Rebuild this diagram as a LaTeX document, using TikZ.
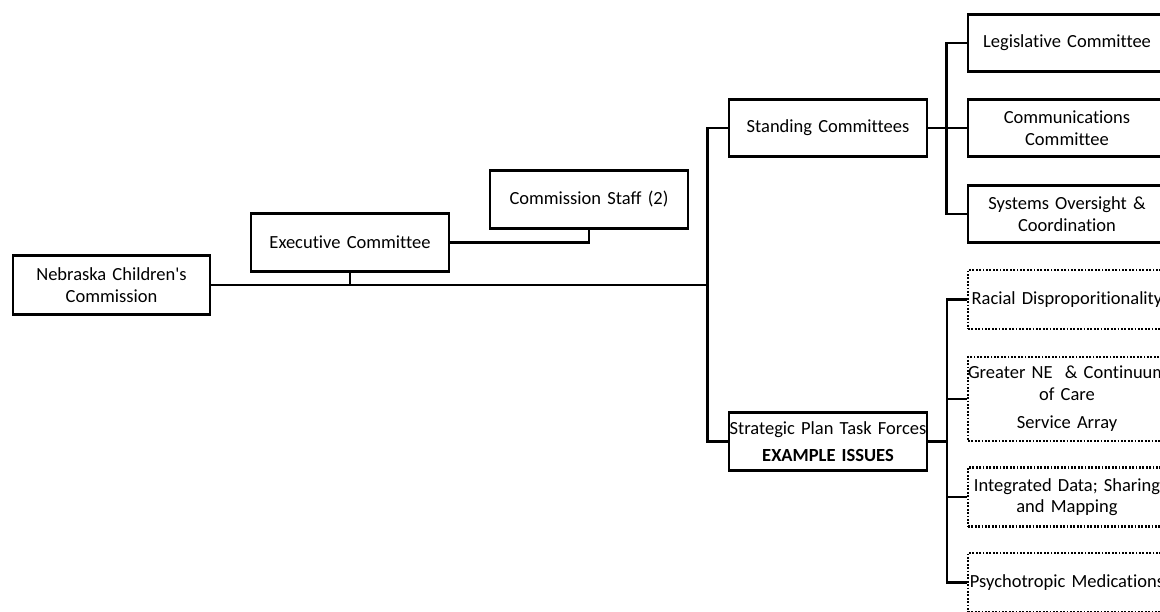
\documentclass[tikz,border=0pt]{standalone}
\usepackage{fontspec}
\setmainfont{Carlito}[Ligatures={NoCommon}]
\begin{document}
\begin{tikzpicture}[x=1pt,y=-1pt,
  every node/.style={font=\fontsize{18.5}{21.5}\selectfont, align=center, inner xsep=0pt, inner ysep=0pt},
  solidbox/.style={draw, line width=2.8pt, text width=198pt, minimum height=58pt},
  dotbox/.style={draw, line width=2.1pt, dash pattern=on 1.8pt off 1.6pt, text width=198pt, minimum height=59pt},
  conn/.style={line width=2.8pt}]
\useasboundingbox (0,0) rectangle (1160,612);
\clip (0,0) rectangle (1160,612);
% main boxes
\node[solidbox, text width=197pt, minimum height=59pt] (ncc) at (111.5,285) {Nebraska Children\textquotesingle s\\Commission};
\node[solidbox] (exec) at (350,242.5) {Executive Committee};
\node[solidbox] (staff) at (589,199.5) {Commission Staff (2)};
\node[solidbox, minimum height=57pt] (stand) at (828,128) {Standing Committees};
\node[solidbox] (strat) at (828,441.5) {Strategic Plan Task Forces\\[6pt]\textbf{EXAMPLE ISSUES}};
% standing committees
\node[solidbox, minimum height=57pt] (legis) at (1067,43) {Legislative Committee};
\node[solidbox, minimum height=57pt] (comm) at (1067,128) {Communications\\Committee};
\node[solidbox, minimum height=57pt] (sys) at (1067,214) {Systems Oversight \&\\Coordination};
% task forces
\node[dotbox] (racial) at (1067,299.5) {\mbox{Racial Disproporitionality}};
\node[dotbox, minimum height=84pt] (greater) at (1067,399) {\mbox{Greater NE\ \ \& Continuum}\\of Care\\[7pt]Service Array};
\node[dotbox] (integ) at (1067,497) {\mbox{Integrated Data; Sharing}\\and Mapping};
\node[dotbox] (psycho) at (1067,582.5) {\mbox{Psychotropic Medications}};
% connectors
\coordinate (t) at (708,285);
\coordinate (sb) at (947,441.5);
\draw[conn] (ncc.east) -- (t);
\draw[conn, line width=2.2pt] (exec.south) -- (exec.south |- t);
\draw[conn] (exec.east) -| (staff.south);
\draw[conn] (stand.west) -- ++(-20,0) |- (strat.west);
\draw[conn] (legis.west) -- ++(-20,0) |- (sys.west);
\draw[conn] (stand.east) -- (comm.west);
\draw[conn] (racial.west) -- ++(-20,0) |- (psycho.west);
\draw[conn] (greater.west) -- ++(-20,0);
\draw[conn] (integ.west) -- ++(-20,0);
\draw[conn] (strat.east) -- (sb);
\end{tikzpicture}
\end{document}
